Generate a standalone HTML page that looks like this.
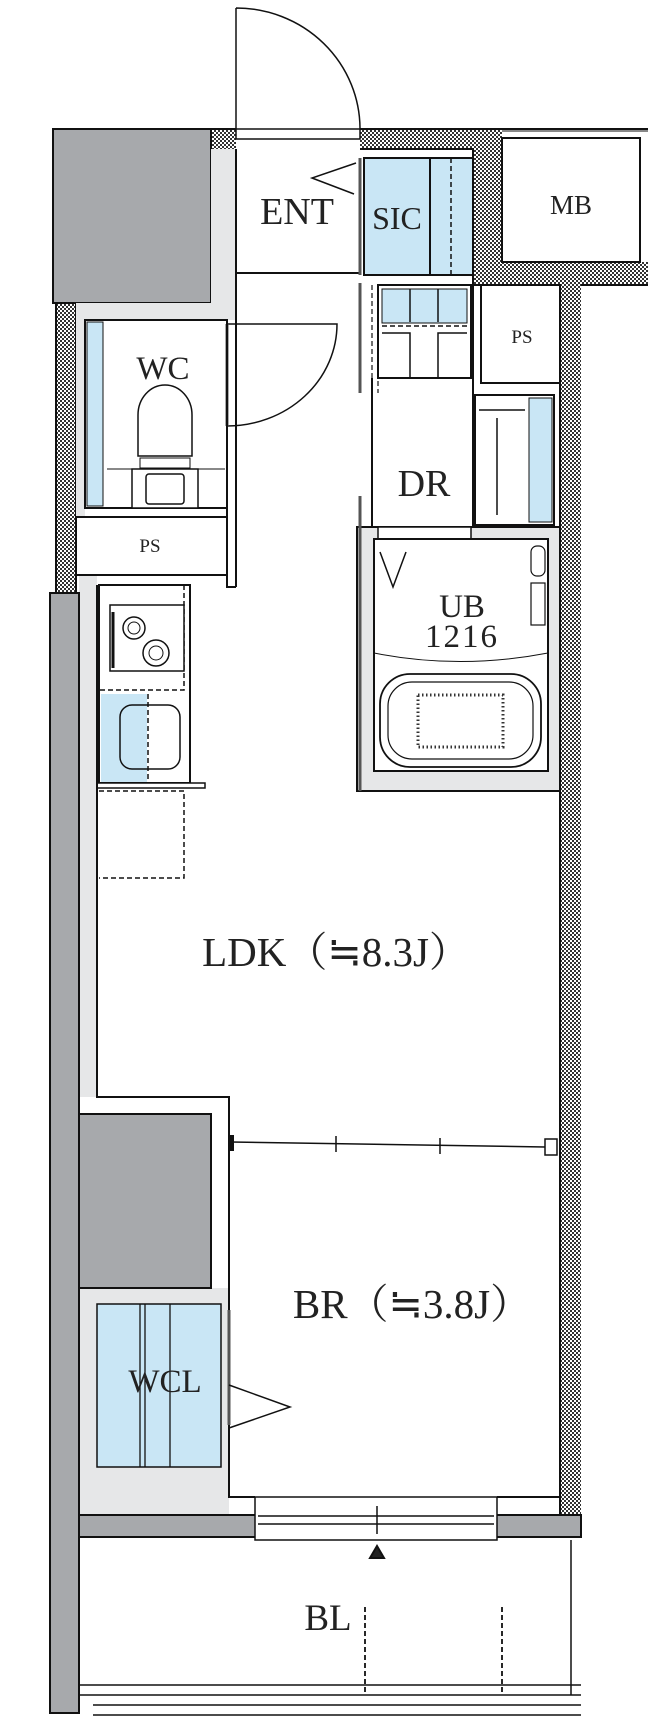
<!DOCTYPE html>
<html><head><meta charset="utf-8"><style>
html,body{margin:0;padding:0;background:#fff}
svg{display:block}
text{font-family:"Liberation Serif","Noto Serif CJK SC",serif;fill:#222}
</style></head><body>
<svg width="648" height="1722" viewBox="0 0 648 1722" xmlns="http://www.w3.org/2000/svg">
<defs>
<pattern id="h" width="4" height="4" patternUnits="userSpaceOnUse">
<rect width="4" height="4" fill="#fff"/><rect width="2" height="2" fill="#333"/><rect x="2" y="2" width="2" height="2" fill="#333"/>
</pattern>
</defs>
<g stroke="#111" stroke-width="2" fill="none">
<rect x="211" y="129" width="25" height="20" fill="url(#h)" stroke="none"/>
<rect x="360" y="129" width="140" height="20" fill="url(#h)" stroke="none"/>
<rect x="473" y="129" width="29" height="156" fill="url(#h)" stroke="none"/>
<rect x="473" y="262" width="175" height="23" fill="url(#h)" stroke="none"/>
<rect x="560" y="285" width="21" height="1230" fill="url(#h)" stroke="none"/>
<rect x="56" y="303" width="20" height="290" fill="url(#h)" stroke="none"/>
<path d="M211 129H236M360 129H648M360 149H473V285H560V1515M581 285H648M56 303V593M76 303V593" />
<rect x="502" y="138" width="138" height="124" fill="#fff"/>
<path d="M502 131H648" stroke-width="1"/>
<rect x="53" y="129" width="158" height="174" fill="#a7a9ac"/>
<rect x="211" y="149" width="25" height="171" fill="#e6e7e8" stroke="none"/>
<rect x="76" y="303" width="160" height="17" fill="#e6e7e8" stroke="none"/>
<rect x="76" y="303" width="9" height="214" fill="#e6e7e8" stroke="none"/>
<rect x="79" y="576" width="18" height="521" fill="#e6e7e8" stroke="none"/>
<rect x="79" y="1288" width="150" height="227" fill="#e6e7e8" stroke="none"/>
<rect x="357" y="527" width="203" height="264" fill="#e6e7e8" stroke="#111"/>
<rect x="50" y="593" width="29" height="1120" fill="#a7a9ac"/>
<rect x="79" y="1114" width="132" height="174" fill="#a7a9ac"/>
<rect x="79" y="1515" width="502" height="22" fill="#a7a9ac"/>
<path d="M236 8V129M236 8A124 121 0 0 1 360 129" stroke-width="1.5"/>
<rect x="236" y="129" width="124" height="10" fill="#fff" stroke-width="1.5"/>
<path d="M236 149V587M236 273H360"/>
<path d="M356 163L312 178L354 194" stroke-width="1.5"/>
<path d="M360 158V275M360 283V393" stroke-width="3" stroke="#555"/>
<rect x="364" y="158" width="109" height="117" fill="#c9e6f5"/>
<path d="M430 158V275" /><path d="M451 158V275" stroke-dasharray="5 3" stroke-width="1.5"/>
<rect x="378" y="285" width="93" height="93" fill="#fff"/>
<rect x="382" y="289" width="85" height="34" fill="#c9e6f5" stroke-width="1"/>
<path d="M382 326H467" stroke-dasharray="5 3" stroke-width="1.5"/>
<path d="M382 333H410V378M467 333H438V378M410 289V322M438 289V322" stroke-width="1.5"/>
<path d="M372 285V393M378 285V393" stroke-width="1.2" stroke-dasharray="5 3"/>
<rect x="481" y="285" width="79" height="98" fill="#fff"/>
<path d="M372 378V527H473V285"/>
<path d="M360 496V791" stroke-width="3" stroke="#555"/>
<rect x="378" y="527" width="93" height="13" fill="#fff" stroke-width="1.5"/>
<rect x="475" y="395" width="79" height="130" fill="#fff"/>
<rect x="529" y="398" width="23" height="124" fill="#c9e6f5" stroke-width="1"/>
<path d="M479 410H525M497 418V515" stroke-width="1.5"/>
<rect x="374" y="539" width="174" height="232" fill="#fff"/>
<path d="M380 552L393 587L406 552" stroke-width="1.5"/>
<rect x="531" y="546" width="14" height="30" rx="6" stroke-width="1.2"/>
<rect x="531" y="583" width="14" height="42" stroke-width="1.2"/>
<path d="M374 653Q460 670 548 653" stroke-width="1"/>
<rect x="380" y="674" width="161" height="93" rx="30" stroke-width="1.8"/>
<rect x="388" y="682" width="145" height="77" rx="24" stroke-width="1.2"/>
<rect x="418" y="695" width="85" height="52" fill="none" stroke="#333" stroke-width="3" stroke-dasharray="1.5 2.5"/>
<rect x="85" y="320" width="142" height="188" fill="#fff"/>
<rect x="87" y="322" width="16" height="184" fill="#c9e6f5" stroke-width="1"/>
<path d="M107 469H225" stroke-width="1"/>
<rect x="132" y="469" width="66" height="39" fill="#fff" stroke-width="1.5"/>
<rect x="146" y="474" width="38" height="30" rx="3" stroke-width="1.5"/>
<path d="M138 456V415A27 30 0 0 1 192 415V456Z" fill="#fff" stroke-width="1.5"/>
<path d="M140 458H190V468H140Z" stroke-width="1"/>
<path d="M227 324H337A110 102 0 0 1 227 426" stroke-width="1.5"/>
<path d="M227 324V426" stroke-width="3" stroke="#555"/>
<rect x="76" y="517" width="151" height="58" fill="#fff"/>
<path d="M227 320V587H236"/>
<rect x="99" y="585" width="91" height="198" fill="#fff"/>
<path d="M184 585V690H99" stroke-dasharray="5 3" stroke-width="1.5"/>
<rect x="110" y="605" width="74" height="66" fill="#fff" stroke-width="1.5"/>
<path d="M113 612V668" stroke-width="3"/>
<circle cx="134" cy="628" r="11" stroke-width="1.5"/><circle cx="134" cy="628" r="6" stroke-width="1"/>
<circle cx="156" cy="653" r="13" stroke-width="1.5"/><circle cx="156" cy="653" r="7" stroke-width="1"/>
<rect x="101" y="694" width="46" height="88" fill="#c9e6f5" stroke="none"/>
<path d="M148 694V783" stroke-dasharray="5 3" stroke-width="1.5"/>
<rect x="120" y="705" width="60" height="64" rx="12" stroke-width="1.5"/>
<rect x="97" y="783" width="108" height="5" fill="#fff" stroke-width="1.5"/>
<path d="M99 791H184V878H99" stroke-dasharray="5 3" stroke-width="1.5"/>
<path d="M97 585V1097H229V1497H255M497 1497H560"/>
<path d="M231 1142L545 1147" stroke-width="1.5"/>
<path d="M336 1136V1152M440 1138V1154" stroke-width="1.5"/>
<rect x="229" y="1136" width="4" height="14" fill="#111"/>
<rect x="545" y="1139" width="12" height="16" fill="#fff" stroke-width="1.5"/>
<rect x="97" y="1304" width="124" height="163" fill="#c9e6f5" stroke-width="1.5"/>
<path d="M140 1304V1467M145 1304V1467M170 1304V1467" stroke-width="1.3"/>
<path d="M229 1310V1425" stroke-width="3" stroke="#555"/>
<path d="M229 1385L290 1407L229 1428" stroke-width="1.5"/>
<rect x="255" y="1497" width="242" height="43" fill="#fff" stroke-width="1.5"/>
<path d="M258 1516H494M258 1524H494" stroke-width="1.5"/>
<path d="M377 1506V1534" stroke-width="1.5"/>
<path d="M370 1558L377 1546L384 1558Z" fill="#222"/>
<path d="M79 1537V1713M571 1540V1695" stroke-width="1.5"/>
<path d="M79 1685H581M79 1695H581M93 1705H581M93 1715H581" stroke-width="1.5"/>
<path d="M365 1607V1695M502 1607V1695" stroke-dasharray="5 3" stroke-width="1.8"/>
</g>
<text x="297" y="224" font-size="38" text-anchor="middle">ENT</text>
<text x="397" y="229" font-size="32" text-anchor="middle">SIC</text>
<text x="571" y="214" font-size="27" text-anchor="middle">MB</text>
<text x="522" y="343" font-size="19" text-anchor="middle">PS</text>
<text x="163" y="379" font-size="33" text-anchor="middle">WC</text>
<text x="150" y="552" font-size="19" text-anchor="middle">PS</text>
<text x="424" y="496" font-size="38" text-anchor="middle">DR</text>
<text x="462" y="617" font-size="33" text-anchor="middle">UB</text>
<text x="462" y="647" font-size="33" text-anchor="middle" letter-spacing="2">1216</text>
<text x="336" y="966" font-size="41" text-anchor="middle">LDK（≒8.3J）</text>
<text x="412" y="1318" font-size="41" text-anchor="middle">BR（≒3.8J）</text>
<text x="165" y="1392" font-size="33" text-anchor="middle">WCL</text>
<text x="328" y="1630" font-size="37" text-anchor="middle">BL</text>
</svg>
</body></html>
